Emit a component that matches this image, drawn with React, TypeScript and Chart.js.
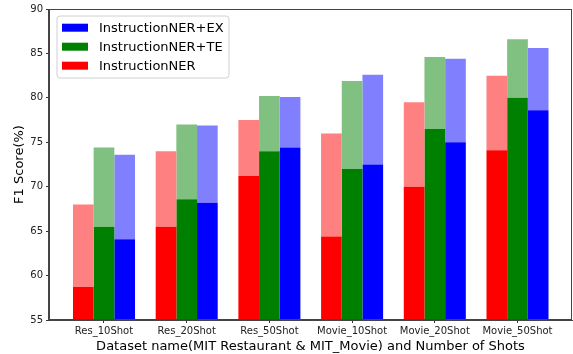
import React, { useEffect, useRef } from 'react';
import { Chart, registerables } from 'chart.js';

Chart.register(...registerables);

const categories = ['Res_10Shot', 'Res_20Shot', 'Res_50Shot', 'Movie_10Shot', 'Movie_20Shot', 'Movie_50Shot'];
const nerBase = [58.7, 65.5, 71.2, 64.4, 70.0, 74.1];
const nerTop = [68.0, 74.0, 77.5, 76.0, 79.5, 82.5];
const teBase = [65.5, 68.6, 74.0, 72.0, 76.5, 80.0];
const teTop = [74.4, 77.0, 80.2, 81.9, 84.6, 86.6];
const exBase = [64.1, 68.2, 74.4, 72.5, 75.0, 78.6];
const exTop = [73.6, 76.9, 80.1, 82.6, 84.4, 85.6];
const yMin = 55;
const yMax = 90;
const yStep = 5;
const legendLabels = ['InstructionNER+EX', 'InstructionNER+TE', 'InstructionNER'];
const legendColors = ['#0000ff', '#008000', '#ff0000'];

const FONT = "'DejaVu Sans', 'Liberation Sans', sans-serif";

const framePlugin = {
  id: 'frame',
  afterDraw(chart: any) {
    const { ctx, chartArea } = chart;
    const { left, top, right, bottom } = chartArea;
    ctx.save();
    ctx.strokeStyle = '#444';
    ctx.lineWidth = 1;
    ctx.strokeRect(Math.round(left) - 0.5, Math.round(top) + 0.5, Math.round(right - left), Math.round(bottom - top) - 1);
    ctx.restore();
  },
};

const legendPlugin = {
  id: 'innerLegend',
  afterDraw(chart: any) {
    const { ctx, chartArea } = chart;
    const bx = chartArea.left + 8;
    const by = chartArea.top + 7;
    const bw = 172;
    const bh = 62;
    const r = 3;
    ctx.save();
    ctx.beginPath();
    ctx.moveTo(bx + r, by);
    ctx.lineTo(bx + bw - r, by);
    ctx.arcTo(bx + bw, by, bx + bw, by + r, r);
    ctx.lineTo(bx + bw, by + bh - r);
    ctx.arcTo(bx + bw, by + bh, bx + bw - r, by + bh, r);
    ctx.lineTo(bx + r, by + bh);
    ctx.arcTo(bx, by + bh, bx, by + bh - r, r);
    ctx.lineTo(bx, by + r);
    ctx.arcTo(bx, by, bx + r, by, r);
    ctx.closePath();
    ctx.fillStyle = 'rgba(255,255,255,0.8)';
    ctx.fill();
    ctx.strokeStyle = '#d0d0d0';
    ctx.lineWidth = 1;
    ctx.stroke();
    ctx.font = `13px ${FONT}`;
    ctx.textBaseline = 'middle';
    ctx.textAlign = 'left';
    legendLabels.forEach((label, i) => {
      const cy = by + 11.7 + i * 19;
      ctx.fillStyle = legendColors[i];
      ctx.fillRect(bx + 5, cy - 4, 26, 8);
      ctx.fillStyle = '#000';
      ctx.fillText(label, bx + 42, cy + 0.5);
    });
    ctx.restore();
  },
};

export default function App() {
  const ref = useRef<HTMLCanvasElement>(null);

  useEffect(() => {
    if (!ref.current) return;
    const floating = (base: number[], top: number[]) => base.map((b, i) => [b, top[i]]);
    const chart = new Chart(ref.current, {
      type: 'bar',
      data: {
        labels: categories,
        datasets: [
          { label: 'InstructionNER', data: nerBase, backgroundColor: '#ff0000', stack: 'ner', borderWidth: 0 },
          { label: 'InstructionNER (top)', data: floating(nerBase, nerTop) as any, backgroundColor: '#ff8080', stack: 'ner', borderWidth: 0 },
          { label: 'InstructionNER+TE', data: teBase, backgroundColor: '#008000', stack: 'te', borderWidth: 0 },
          { label: 'InstructionNER+TE (top)', data: floating(teBase, teTop) as any, backgroundColor: '#80c080', stack: 'te', borderWidth: 0 },
          { label: 'InstructionNER+EX', data: exBase, backgroundColor: '#0000ff', stack: 'ex', borderWidth: 0 },
          { label: 'InstructionNER+EX (top)', data: floating(exBase, exTop) as any, backgroundColor: '#8080ff', stack: 'ex', borderWidth: 0 },
        ],
      },
      options: {
        responsive: false,
        animation: false,
        layout: { padding: { top: 8, right: 1, bottom: 0, left: 0 } },
        datasets: { bar: { barPercentage: 1, categoryPercentage: 0.75 } },
        plugins: { legend: { display: false }, tooltip: { enabled: false } },
        scales: {
          x: {
            stacked: true,
            offset: true,
            afterBuildTicks: (scale: any) => {
              scale._startValue = -0.665;
              scale._valueRange = 6.324;
            },
            afterFit: (scale: any) => {
              scale.height = 34;
            },
            grid: { display: true, drawOnChartArea: false, drawTicks: true, tickLength: 3, offset: false, color: '#333' },
            border: { display: true, color: '#444', width: 1 },
            ticks: { color: '#222', font: { family: FONT, size: 10 }, padding: 2, maxRotation: 0, autoSkip: false },
            title: {
              display: true,
              text: 'Dataset name(MIT Restaurant & MIT_Movie) and Number of Shots',
              color: '#000',
              font: { family: FONT, size: 13 },
              padding: { top: 0, bottom: 0 },
            },
          },
          y: {
            stacked: false,
            min: yMin,
            max: yMax,
            afterFit: (scale: any) => {
              scale.width = 49;
            },
            grid: { display: true, drawOnChartArea: false, drawTicks: true, tickLength: 3, color: '#333' },
            border: { display: true, color: '#444', width: 1 },
            ticks: { stepSize: yStep, color: '#222', font: { family: FONT, size: 10 }, padding: 3 },
            title: {
              display: true,
              text: 'F1 Score(%)',
              color: '#000',
              font: { family: FONT, size: 13 },
              padding: { top: 12, bottom: 0 },
            },
          },
        },
      },
      plugins: [framePlugin, legendPlugin],
    });
    return () => chart.destroy();
  }, []);

  return (
    <div style={{ position: 'absolute', left: 0, top: 0, width: 573, height: 354, background: '#fff' }}>
      <canvas ref={ref} width={573} height={354} style={{ display: 'block' }} />
    </div>
  );
}
